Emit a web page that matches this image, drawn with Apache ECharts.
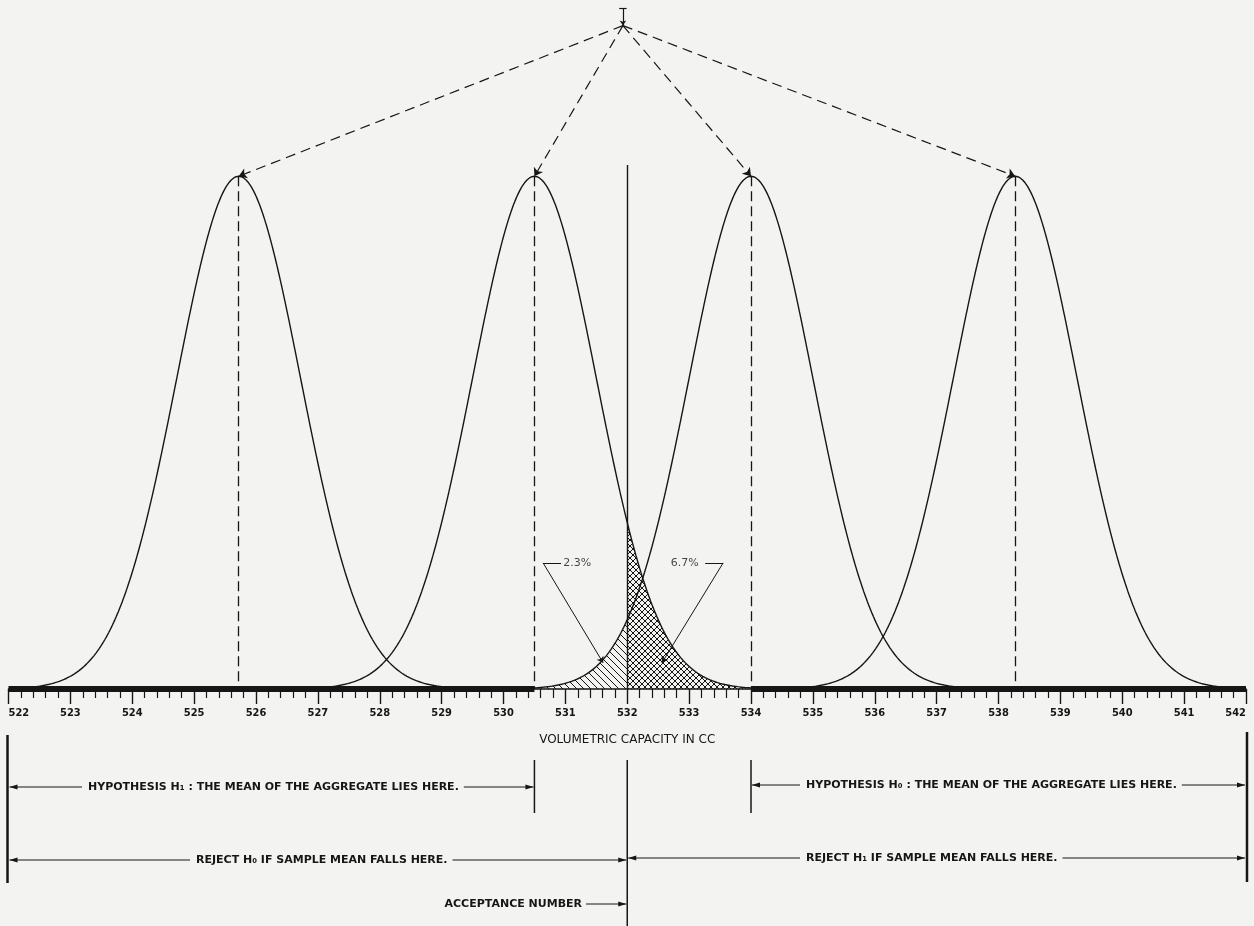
<!DOCTYPE html>
<html><head><meta charset="utf-8">
<script src="https://cdn.jsdelivr.net/npm/echarts@6/dist/echarts.min.js"></script>
<style>html,body{margin:0;padding:0;background:#f3f3f1;}#c{width:1254px;height:926px;}</style>
</head><body><div id="c"></div>
<script>
// ---- data ----
const xMin = 522, xMax = 542;
const tickValues = [522,523,524,525,526,527,528,529,530,531,532,533,534,535,536,537,538,539,540,541,542];
const means = [525.72, 530.5, 534.0, 538.27];
const sigma = 1.0;
const peakHeight = 1.0;
const tailSpan = 3.5;             // curves drawn to ±3.5 sigma
const acceptanceNumber = 532;
const acceptanceLineTop = 1.022;
const apex = [531.93, 1.294];
const apexTop = 1.328;
const hatchLeft = [530.5, 532];   // under the H0 curve (mean 534)
const hatchRight = [532, 534];    // under the H1 curve (mean 530.5)
const pctLabels = ['2.3%', '6.7%'];
const pctLabelPos = [[531.19, 0.246], [532.93, 0.246]];
const leaderH = [[[530.93,0.246],[530.64,0.246]], [[533.26,0.246],[533.55,0.246]]];
const leaderD = [[[530.64,0.246],[531.61,0.051]], [[533.55,0.246],[532.56,0.051]]];
const axisTitle = 'VOLUMETRIC CAPACITY IN CC';
const rowTexts = {
  h1: 'HYPOTHESIS H\u2081 : THE MEAN OF THE AGGREGATE LIES HERE.',
  h0: 'HYPOTHESIS H\u2080 : THE MEAN OF THE AGGREGATE LIES HERE.',
  rejH0: 'REJECT H\u2080 IF SAMPLE MEAN FALLS HERE.',
  rejH1: 'REJECT H\u2081 IF SAMPLE MEAN FALLS HERE.',
  acc: 'ACCEPTANCE NUMBER'
};

// ---- helpers ----
const INK = '#161616';
function normalCurve(mu, from, to) {
  const pts = [];
  const n = Math.round((to - from) / 0.02);
  for (let i = 0; i <= n; i++) {
    const x = from + (to - from) * i / n;
    const z = (x - mu) / sigma;
    pts.push([x, peakHeight * Math.exp(-0.5 * z * z)]);
  }
  return pts;
}
function hatch(dirs, s, w) {
  const c = document.createElement('canvas'); c.width = s; c.height = s;
  const g = c.getContext('2d'); g.strokeStyle = INK; g.lineWidth = w;
  dirs.forEach(d => [-s, 0, s].forEach(o => {
    g.beginPath();
    if (d === '\\') { g.moveTo(o, 0); g.lineTo(o + s, s); }
    else { g.moveTo(o + s, 0); g.lineTo(o, s); }
    g.stroke();
  }));
  return c;
}

const curveSeries = means.map(m => ({
  type: 'line', data: normalCurve(m, m - tailSpan * sigma, m + tailSpan * sigma),
  showSymbol: false, symbol: 'none', smooth: false, clip: false,
  lineStyle: { color: INK, width: 1.4 }, z: 5, silent: true
}));

const option = {
  backgroundColor: '#f3f3f1',
  animation: false,
  grid: { left: 8.5, right: 8, top: 2, bottom: 237 },
  xAxis: {
    type: 'value', min: xMin, max: xMax, interval: 1,
    axisLine: { lineStyle: { color: INK, width: 1.5 } },
    axisTick: { show: true, length: 15, lineStyle: { color: INK, width: 1.4 } },
    minorTick: { show: true, splitNumber: 5, length: 9, lineStyle: { color: INK, width: 1.2 } },
    splitLine: { show: false },
    axisLabel: { color: INK, fontSize: 11, fontWeight: 'bold', fontFamily: 'DejaVu Sans Condensed', margin: 19,
      alignMinLabel: 'left', alignMaxLabel: 'right',
      formatter: v => tickValues.indexOf(v) >= 0 ? String(v) : '' },
    name: axisTitle, nameLocation: 'middle', nameGap: 45,
    nameTextStyle: { color: INK, fontSize: 12, fontFamily: 'DejaVu Sans' }
  },
  yAxis: { type: 'value', min: 0, max: 1.34, show: false },
  series: [
    ...curveSeries,
    { type: 'line', data: normalCurve(means[2], hatchLeft[0], hatchLeft[1]), showSymbol: false, symbol: 'none',
      lineStyle: { width: 0 }, areaStyle: { color: { image: hatch(['\\'], 7, 1), repeat: 'repeat' }, opacity: 1 }, z: 3 },
    { type: 'line', data: normalCurve(means[1], hatchRight[0], hatchRight[1]), showSymbol: false, symbol: 'none',
      lineStyle: { width: 0 }, areaStyle: { color: { image: hatch(['\\', '/'], 6, 1), repeat: 'repeat' }, opacity: 1 }, z: 3 },
    // heavy base bar outside the shaded zone
    { type: 'lines', coordinateSystem: 'cartesian2d', clip: false, z: 6,
      lineStyle: { color: INK, width: 6, opacity: 1 },
      data: [{ coords: [[xMin, 0], [hatchLeft[0], 0]] }, { coords: [[hatchRight[1], 0], [xMax, 0]] }] },
    // dashed mean lines
    { type: 'lines', coordinateSystem: 'cartesian2d', clip: false, z: 4,
      lineStyle: { color: INK, width: 1.3, type: [10, 5], opacity: 1 },
      data: means.map(m => ({ coords: [[m, peakHeight], [m, 0]] })) },
    // dashed lines from apex to peaks
    { type: 'lines', coordinateSystem: 'cartesian2d', clip: false, z: 4,
      symbol: ['none', 'arrow'], symbolSize: 8,
      lineStyle: { color: INK, width: 1.2, type: [10, 6], opacity: 1 },
      data: means.map(m => ({ coords: [apex, [m, peakHeight]] })) },
    // apex stem
    { type: 'lines', coordinateSystem: 'cartesian2d', clip: false, z: 4,
      symbol: ['none', 'arrow'], symbolSize: 5,
      lineStyle: { color: INK, width: 1.2, opacity: 1 },
      data: [{ coords: [[apex[0], apexTop], apex] }] },
    { type: 'lines', coordinateSystem: 'cartesian2d', clip: false, z: 4,
      lineStyle: { color: INK, width: 1.2, opacity: 1 },
      data: [{ coords: [[apex[0] - 0.06, apexTop], [apex[0] + 0.06, apexTop]] }] },
    // acceptance line
    { type: 'lines', coordinateSystem: 'cartesian2d', clip: false, z: 5,
      lineStyle: { color: INK, width: 1.4, opacity: 1 },
      data: [{ coords: [[acceptanceNumber, acceptanceLineTop], [acceptanceNumber, 0]] }] },
    // leaders
    { type: 'lines', coordinateSystem: 'cartesian2d', clip: false, z: 6,
      lineStyle: { color: INK, width: 1, opacity: 1 },
      data: leaderH.map(c => ({ coords: c })) },
    { type: 'lines', coordinateSystem: 'cartesian2d', clip: false, z: 6,
      symbol: ['none', 'arrow'], symbolSize: 6,
      lineStyle: { color: INK, width: 1, opacity: 1 },
      data: leaderD.map(c => ({ coords: c })) },
    { type: 'scatter', symbolSize: 0, z: 7, silent: true,
      data: pctLabelPos.map((p, i) => [p[0], p[1], pctLabels[i]]),
      label: { show: true, position: 'inside', formatter: p => p.value[2], color: INK, fontSize: 11, fontFamily: 'DejaVu Sans' } }
  ]
};

const chart = echarts.init(document.getElementById('c'));
chart.setOption(option);

// ---- annotations below the axis ----
const X = v => chart.convertToPixel({ xAxisIndex: 0 }, v);
const FONT = 'bold 11px "DejaVu Sans"';
const mctx = document.createElement('canvas').getContext('2d');
mctx.font = FONT;
const tw = t => mctx.measureText(t).width;
const g = [];
const vline = (x, y1, y2, w) => g.push({ type: 'line', shape: { x1: x, y1: y1, x2: x, y2: y2 }, style: { stroke: INK, lineWidth: w }, silent: true });
const hline = (x1, x2, y) => g.push({ type: 'line', shape: { x1: x1, y1: y, x2: x2, y2: y }, style: { stroke: INK, lineWidth: 1 }, silent: true });
const arrow = (x, y, dir) => g.push({ type: 'polygon', shape: { points: [[x, y], [x - dir * 8, y - 2.5], [x - dir * 8, y + 2.5]] }, style: { fill: INK }, silent: true });
const text = (t, x, y, align) => g.push({ type: 'text', style: { text: t, x: x, y: y, font: FONT, fill: INK, align: align || 'left', verticalAlign: 'middle', textAlign: align || 'left', textVerticalAlign: 'middle' }, silent: true });

const xL = X(xMin), xR = X(xMax), xH1 = X(hatchLeft[0]), xH0 = X(hatchRight[1]), xA = X(acceptanceNumber);
vline(xL - 1, 735, 883, 2.5);
vline(xR + 1, 732, 882, 2.5);
vline(xH1, 760, 813, 1.5);
vline(xH0, 760, 813, 1.5);
vline(xA, 760, 926, 1.5);

function row(t, y, leftEnd, textStart, rightEnd) {
  hline(leftEnd + 1, textStart - 6, y); arrow(leftEnd + 1, y, -1);
  text(t, textStart, y);
  const e = textStart + tw(t) + 5;
  hline(e, rightEnd - 1, y); arrow(rightEnd - 1, y, 1);
}
row(rowTexts.h1, 787, xL, 88, xH1);
row(rowTexts.h0, 785, xH0, 806, xR);
row(rowTexts.rejH0, 860, xL, 196, xA);
row(rowTexts.rejH1, 858, xA, 806, xR);
text(rowTexts.acc, 582, 904, 'right');
hline(586, xA - 1, 904); arrow(xA - 1, 904, 1);

chart.setOption({ graphic: g });
</script></body></html>
